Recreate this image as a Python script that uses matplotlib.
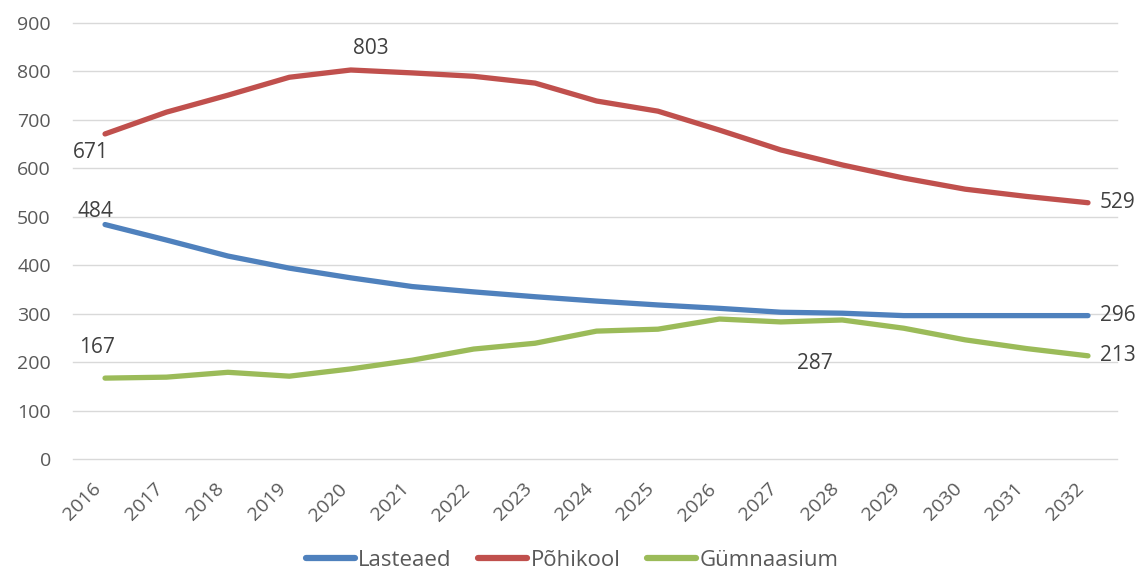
import matplotlib
matplotlib.use("Agg")
import matplotlib.pyplot as plt
import numpy as np

years = [str(y) for y in range(2016, 2033)]
lasteaed = [484, 452, 419, 394, 374, 356, 345, 335, 326, 318, 311, 303, 301, 296, 296, 296, 296]
pohikool = [671, 716, 751, 788, 803, 797, 790, 776, 739, 718, 679, 638, 607, 580, 557, 542, 529]
gymnaasium = [167, 169, 179, 171, 186, 204, 227, 239, 264, 268, 289, 283, 287, 270, 246, 228, 213]
series_names = ["Lasteaed", "Põhikool", "Gümnaasium"]
colors = ["#4F81BD", "#C0504D", "#9BBB59"]

plt.rcParams['font.family'] = ['Open Sans', 'DejaVu Sans']

fig = plt.figure(figsize=(11.42, 5.75), dpi=100)
ax = fig.add_axes([0.064, 0.2017, 0.914, 0.7583])
x = np.arange(len(years))
for vals, name, c in zip([lasteaed, pohikool, gymnaasium], series_names, colors):
    ax.plot(x, vals, color=c, lw=3.8, solid_capstyle='round', label=name, zorder=3)

ax.set_xlim(-0.52, len(years) - 0.53)
ax.set_ylim(0, 900)
ax.set_yticks(range(0, 901, 100))
ax.yaxis.grid(True, color="#d9d9d9", lw=1)
for gl in ax.get_ygridlines():
    gl.set_clip_on(False)
ax.set_axisbelow(True)
for s in ax.spines.values():
    s.set_visible(False)
ax.tick_params(length=0, labelsize=14, labelcolor="#595959")
ax.tick_params(axis='y', pad=16)
ax.tick_params(axis='x', pad=15)
ax.set_xticks(x)
ax.set_xticklabels(years, rotation=45, ha='right', va='top')

lc = "#404040"
fs = 15
def lbl(i, vals, dx, dy, ha='center'):
    ax.annotate(str(vals[i]), (i, vals[i]), xytext=(dx, dy), textcoords='offset pixels',
                ha=ha, va='center', fontsize=fs, color=lc)

lbl(0, pohikool, -14, -19)
lbl(0, lasteaed, -10, 13)
lbl(0, gymnaasium, -8, 31)
lbl(4, pohikool, 20, 21)
lbl(12, gymnaasium, -27, -44)
for vals in [pohikool, lasteaed, gymnaasium]:
    lbl(16, vals, 12, 0, ha='left')

leg = fig.legend(loc='center', bbox_to_anchor=(0.501, 0.026), ncol=3, frameon=False, fontsize=16,
                 handlelength=2.2, columnspacing=1.2, handletextpad=0.15, labelcolor="#595959")
for h in leg.get_lines():
    h.set_linewidth(4.5)

fig.savefig("out.png", dpi=100, facecolor='white')
